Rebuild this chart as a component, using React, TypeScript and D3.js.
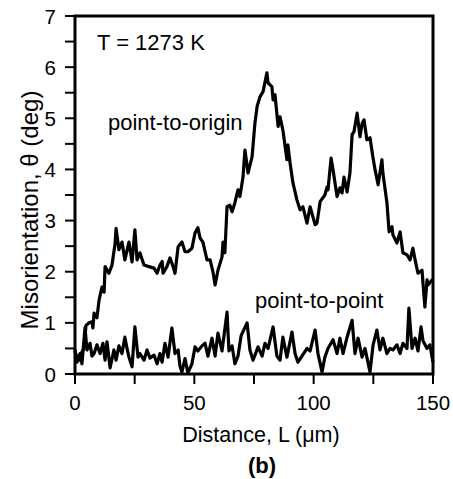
import React from "react";
import * as d3 from "d3";

const originL = [0,0.8,1.7,2.5,3.8,4.6,5.9,7.1,7.5,8.0,9.2,10.1,11.3,12.2,12.6,14.2,15.5,16.8,17.2,18.4,19.7,20.9,22.6,23.9,25.1,26.0,27.2,28.9,31.0,33.1,34.4,35.6,36.5,36.9,38.5,39.8,41.1,41.9,43.2,44.8,46.1,47.3,49.0,50.3,51.5,52.4,53.6,55.3,56.6,57.8,58.7,59.9,61.6,62.0,62.8,63.7,64.9,65.8,67.0,68.3,69.1,70.4,71.2,72.5,74.2,75.4,76.3,77.5,78.8,80.4,80.9,82.5,83.0,83.8,85.1,85.9,87.1,88.8,89.2,90.1,91.3,93.0,94.3,95.5,97.2,98.5,100.6,101.4,102.7,104.7,105.6,106.0,107.3,108.1,109.8,111.0,111.9,112.7,114.0,115.2,116.1,116.9,118.2,119.4,120.3,121.1,122.3,123.6,124.9,125.7,127.0,128.6,129.0,130.7,131.6,132.8,133.2,134.9,136.2,137.4,139.1,140.4,141.6,142.5,143.7,145.4,145.8,146.6,147.5,147.9,149.6,150];
const originTheta = [0.45,0.3,0.27,0.4,0.5,0.95,1.0,1.02,0.9,1.19,1.1,1.45,1.7,1.6,2.1,1.97,2.13,2.55,2.85,2.43,2.58,2.23,2.58,2.19,2.82,2.23,2.37,2.13,2.1,2.07,1.97,2.13,2.2,1.97,2.1,2.27,2.1,1.97,2.49,2.58,2.39,2.39,2.46,2.76,2.86,2.66,2.58,2.23,2.23,2.0,1.74,2.03,2.29,2.58,2.37,3.27,3.3,3.17,3.35,3.6,3.47,3.85,4.38,3.93,4.25,4.91,5.23,5.42,5.52,5.89,5.69,5.62,5.36,5.46,4.84,5.03,4.77,4.19,4.48,4.13,3.74,3.4,3.21,3.27,2.95,3.27,2.92,2.95,3.37,3.5,3.66,3.6,4.22,4.0,3.47,3.64,3.54,3.85,3.56,3.93,4.68,4.74,5.1,4.64,4.9,4.97,4.58,4.62,4.22,4.0,3.7,4.19,3.93,3.35,2.78,2.88,2.72,2.56,2.78,2.37,2.33,2.23,2.46,2.23,1.97,2.03,1.78,1.31,1.84,1.74,1.84,1.85];

const pointL = [0,0.8,2.1,2.9,4.2,5.0,6.3,7.1,8.0,9.2,10.5,11.7,12.6,13.4,14.7,16.3,17.2,18.4,19.7,20.9,21.8,22.6,23.9,25.1,26.4,27.2,28.9,30.2,31.4,33.1,34.4,35.6,36.5,37.7,39.0,40.6,41.9,43.2,44.0,44.8,46.1,47.3,49.0,50.3,51.5,53.2,54.5,55.7,57.4,58.7,59.9,61.6,63.7,64.5,65.8,67.0,68.3,69.6,72.1,73.3,74.6,76.7,78.4,79.6,80.9,83.0,84.6,85.9,87.1,88.8,90.9,92.2,93.4,95.1,97.2,98.5,100.6,101.8,103.5,104.7,106.0,108.1,109.8,111.0,112.3,114.0,116.1,117.3,118.6,120.3,121.5,123.6,124.9,126.5,127.8,129.0,130.7,132.0,133.2,134.9,136.2,137.4,139.1,139.9,141.2,142.5,143.7,145.0,145.8,147.5,148.7,150];
const pointTheta = [0.47,0.23,0.4,0.2,0.9,0.47,0.6,0.35,0.4,0.57,0.4,0.6,0.27,0.63,0.12,0.47,0.27,0.55,0.4,0.72,0.5,0.33,0.14,0.92,0.33,0.4,0.27,0.47,0.31,0.37,0.2,0.4,0.23,0.6,0.33,0.9,0.4,0.47,0.15,0.04,0.3,0.02,0.2,0.53,0.45,0.55,0.6,0.35,0.7,0.35,0.8,0.45,1.21,0.45,0.55,0.2,0.35,0.75,1.0,0.47,0.27,0.53,0.35,0.6,0.5,0.92,0.35,0.27,0.72,0.33,0.82,0.4,0.23,0.35,0.5,0.45,0.86,0.4,0.04,0.33,0.5,0.67,0.4,0.7,0.4,0.72,1.05,0.4,0.7,0.33,0.5,0.04,0.57,0.86,0.47,0.7,0.4,0.5,0.47,0.57,0.4,0.6,0.5,1.29,0.5,0.7,0.45,0.92,0.65,0.5,0.57,0.23];

const xTicksMajor = [0, 50, 100, 150];
const xTicksAll = [0, 25, 50, 75, 100, 125, 150];
const yTicksMajor = [0, 1, 2, 3, 4, 5, 6, 7];
const yTicksAll = [0, 0.5, 1, 1.5, 2, 2.5, 3, 3.5, 4, 4.5, 5, 5.5, 6, 6.5, 7];

const W = 453, H = 479;
const FONT = "Arial, 'Liberation Sans', sans-serif";

export default function App() {
  const x = d3.scaleLinear().domain([0, 150]).range([75, 433]);
  const y = d3.scaleLinear().domain([0, 7]).range([374, 16]);
  const line = d3.line<[number, number]>().x(d => x(d[0])).y(d => y(d[1]));
  const origin = originL.map((l, i) => [l, originTheta[i]] as [number, number]);
  const p2p = pointL.map((l, i) => [l, pointTheta[i]] as [number, number]);
  const tickLen = 10;
  return (
    <svg width={W} height={H} style={{ position: "absolute", left: 0, top: 0, background: "#fff" }} fontFamily={FONT}>
      <rect x={0} y={0} width={W} height={H} fill="#fff" />
      <path d={line(origin) || ""} fill="none" stroke="#000" strokeWidth={3.2} strokeLinejoin="round" />
      <path d={line(p2p) || ""} fill="none" stroke="#000" strokeWidth={3.2} strokeLinejoin="round" />
      <rect x={x(0)} y={y(7)} width={x(150) - x(0)} height={y(0) - y(7)} fill="none" stroke="#000" strokeWidth={3} />
      {yTicksAll.map(t => (
        <line key={"yt" + t} x1={x(0) - tickLen} x2={x(0)} y1={y(t)} y2={y(t)} stroke="#000" strokeWidth={2} />
      ))}
      {xTicksAll.map(t => (
        <line key={"xt" + t} x1={x(t)} x2={x(t)} y1={y(0)} y2={y(0) + tickLen} stroke="#000" strokeWidth={2} />
      ))}
      {yTicksMajor.map(t => (
        <text key={"yl" + t} x={x(0) - 19} y={y(t) + 7.5} textAnchor="end" fontSize={20.5}>{t}</text>
      ))}
      {xTicksMajor.map(t => (
        <text key={"xl" + t} x={x(t)} y={410} textAnchor="middle" fontSize={20.5}>{t}</text>
      ))}
      <text x={261} y={442} textAnchor="middle" fontSize={21.5}>Distance, L (μm)</text>
      <text x={262} y={473} textAnchor="middle" fontSize={22} fontWeight="bold">(b)</text>
      <text transform={`translate(38,210) rotate(-90)`} textAnchor="middle" fontSize={24}>Misorientation, θ (deg)</text>
      <text x={97} y={50} fontSize={22}>T = 1273 K</text>
      <text x={108} y={130} fontSize={22}>point-to-origin</text>
      <text x={255} y={308} fontSize={22}>point-to-point</text>
    </svg>
  );
}
